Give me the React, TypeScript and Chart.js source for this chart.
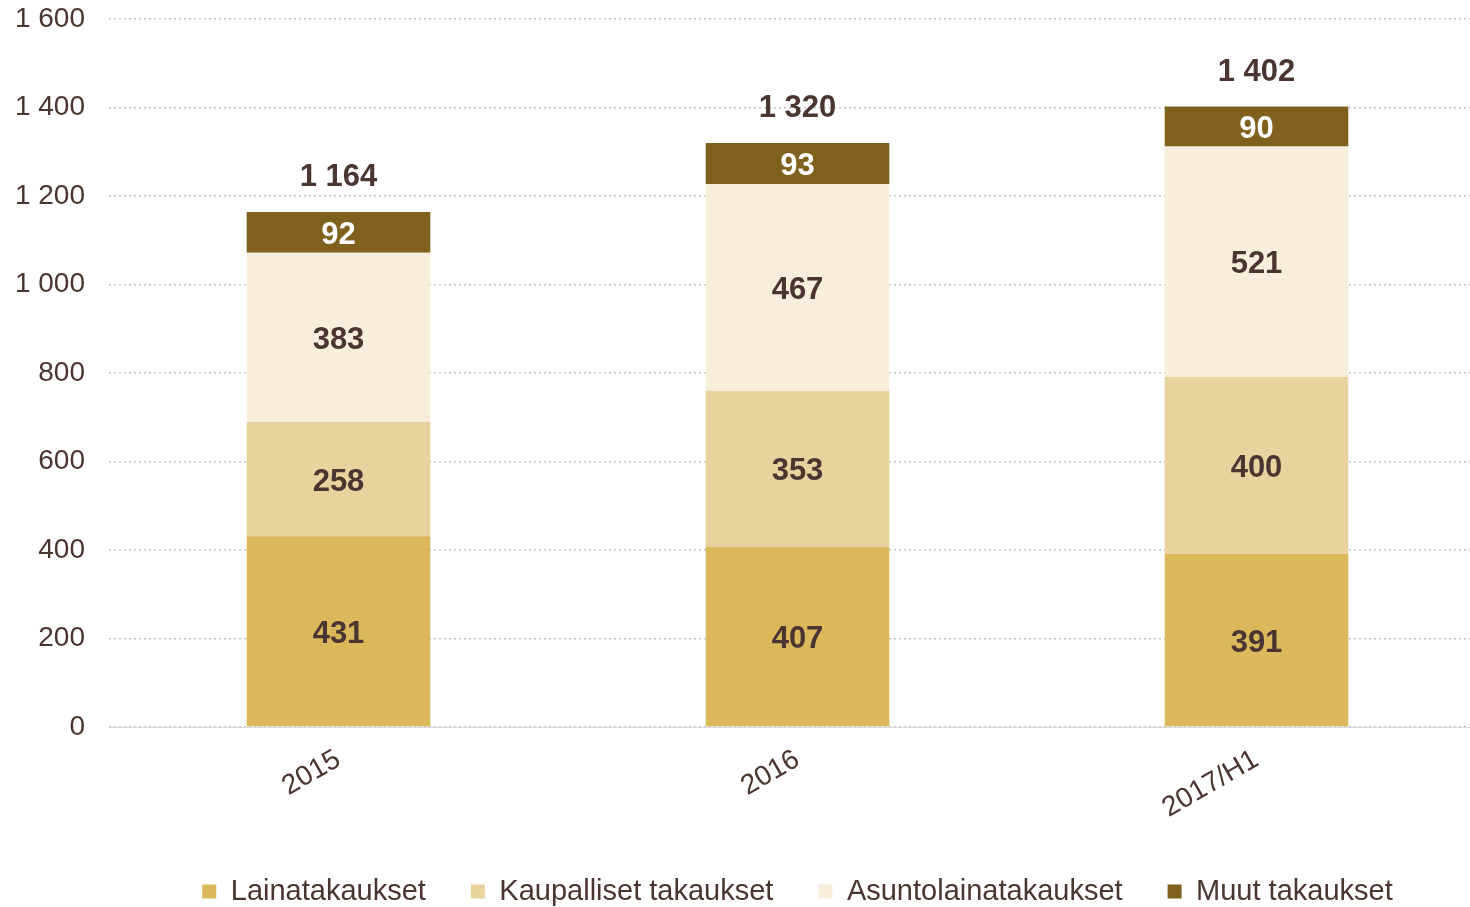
import React, { useEffect, useRef } from "react";
import { Chart, registerables } from "chart.js";

Chart.register(...registerables);

const categories = ["2015", "2016", "2017/H1"];
const lainatakaukset = [431, 407, 391];
const kaupalliset = [258, 353, 400];
const asuntolaina = [383, 467, 521];
const muut = [92, 93, 90];
const totals = [1164, 1320, 1402];
const seriesNames = ["Lainatakaukset", "Kaupalliset takaukset", "Asuntolainatakaukset", "Muut takaukset"];
const seriesColors = ["#DBB85C", "#E8D29D", "#F7EEDC", "#7F611D"];
const labelColors = ["#4A3530", "#4A3530", "#4A3530", "#FFFFFF"];
const yMin = 0;
const yMax = 1600;
const yStep = 200;

const FONT = "'Liberation Sans', Arial, sans-serif";
const TEXT = "#4A3530";

const fmt = (v: number) => String(Math.round(v)).replace(/\B(?=(\d{3})+(?!\d))/g, " ");

const labelPlugin = {
  id: "valueLabels",
  afterDatasetsDraw(chart: any) {
    const ctx = chart.ctx;
    ctx.save();
    ctx.textAlign = "center";
    ctx.textBaseline = "middle";
    ctx.font = `bold 31px ${FONT}`;
    chart.data.datasets.forEach((ds: any, di: number) => {
      const meta = chart.getDatasetMeta(di);
      meta.data.forEach((bar: any, i: number) => {
        const yc = (bar.y + bar.base) / 2;
        ctx.fillStyle = labelColors[di];
        ctx.fillText(fmt(ds.data[i]), bar.x, yc + 3);
      });
    });
    const lastMeta = chart.getDatasetMeta(chart.data.datasets.length - 1);
    lastMeta.data.forEach((bar: any, i: number) => {
      ctx.fillStyle = TEXT;
      ctx.fillText(fmt(totals[i]), bar.x, bar.y - 34);
    });
    ctx.restore();
  },
};

export default function App() {
  const ref = useRef<HTMLCanvasElement | null>(null);
  useEffect(() => {
    document.body.style.margin = "0";
    const canvas = ref.current!;
    const datasets = [lainatakaukset, kaupalliset, asuntolaina, muut].map((d, i) => ({
      label: seriesNames[i],
      data: d,
      backgroundColor: seriesColors[i],
      borderWidth: 0,
      barPercentage: 0.4,
      categoryPercentage: 1,
    }));
    const chart = new Chart(canvas, {
      type: "bar",
      data: { labels: categories, datasets },
      options: {
        animation: false,
        responsive: false,
        devicePixelRatio: 1,
        layout: { padding: { top: 19, right: 0, bottom: 0, left: 0 } },
        plugins: {
          legend: {
            position: "bottom",
            fullSize: false,
            labels: {
              boxWidth: 14,
              boxHeight: 14,
              padding: 45,
              color: TEXT,
              font: { family: FONT, size: 29 },
            },
          },
          tooltip: { enabled: false },
        },
        scales: {
          x: {
            stacked: true,
            grid: { display: false },
            border: { display: true, color: "#D9D9D9", width: 1 },
            ticks: {
              color: TEXT,
              font: { family: FONT, size: 28 },
              maxRotation: 30,
              minRotation: 30,
              padding: 8,
            },
            afterFit: (s: any) => {
              s.height = 105;
            },
          },
          y: {
            stacked: true,
            min: yMin,
            max: yMax,
            grid: { color: "#C4C4C4", lineWidth: 1.5, drawTicks: false },
            border: { display: false, dash: [2, 3] },
            ticks: {
              stepSize: yStep,
              color: TEXT,
              font: { family: FONT, size: 28 },
              padding: 24,
              callback: (v: any) => fmt(Number(v)),
            },
            afterFit: (s: any) => {
              s.width = 109;
              s.paddingTop = 0;
              s.paddingBottom = 0;
            },
          },
        },
      },
      plugins: [labelPlugin],
    });
    return () => chart.destroy();
  }, []);
  return (
    <div style={{ width: 1470, height: 907, overflow: "hidden", position: "relative", background: "#fff" }}>
      <canvas ref={ref} width={1486} height={916} style={{ display: "block", width: 1486, height: 916 }} />
    </div>
  );
}
